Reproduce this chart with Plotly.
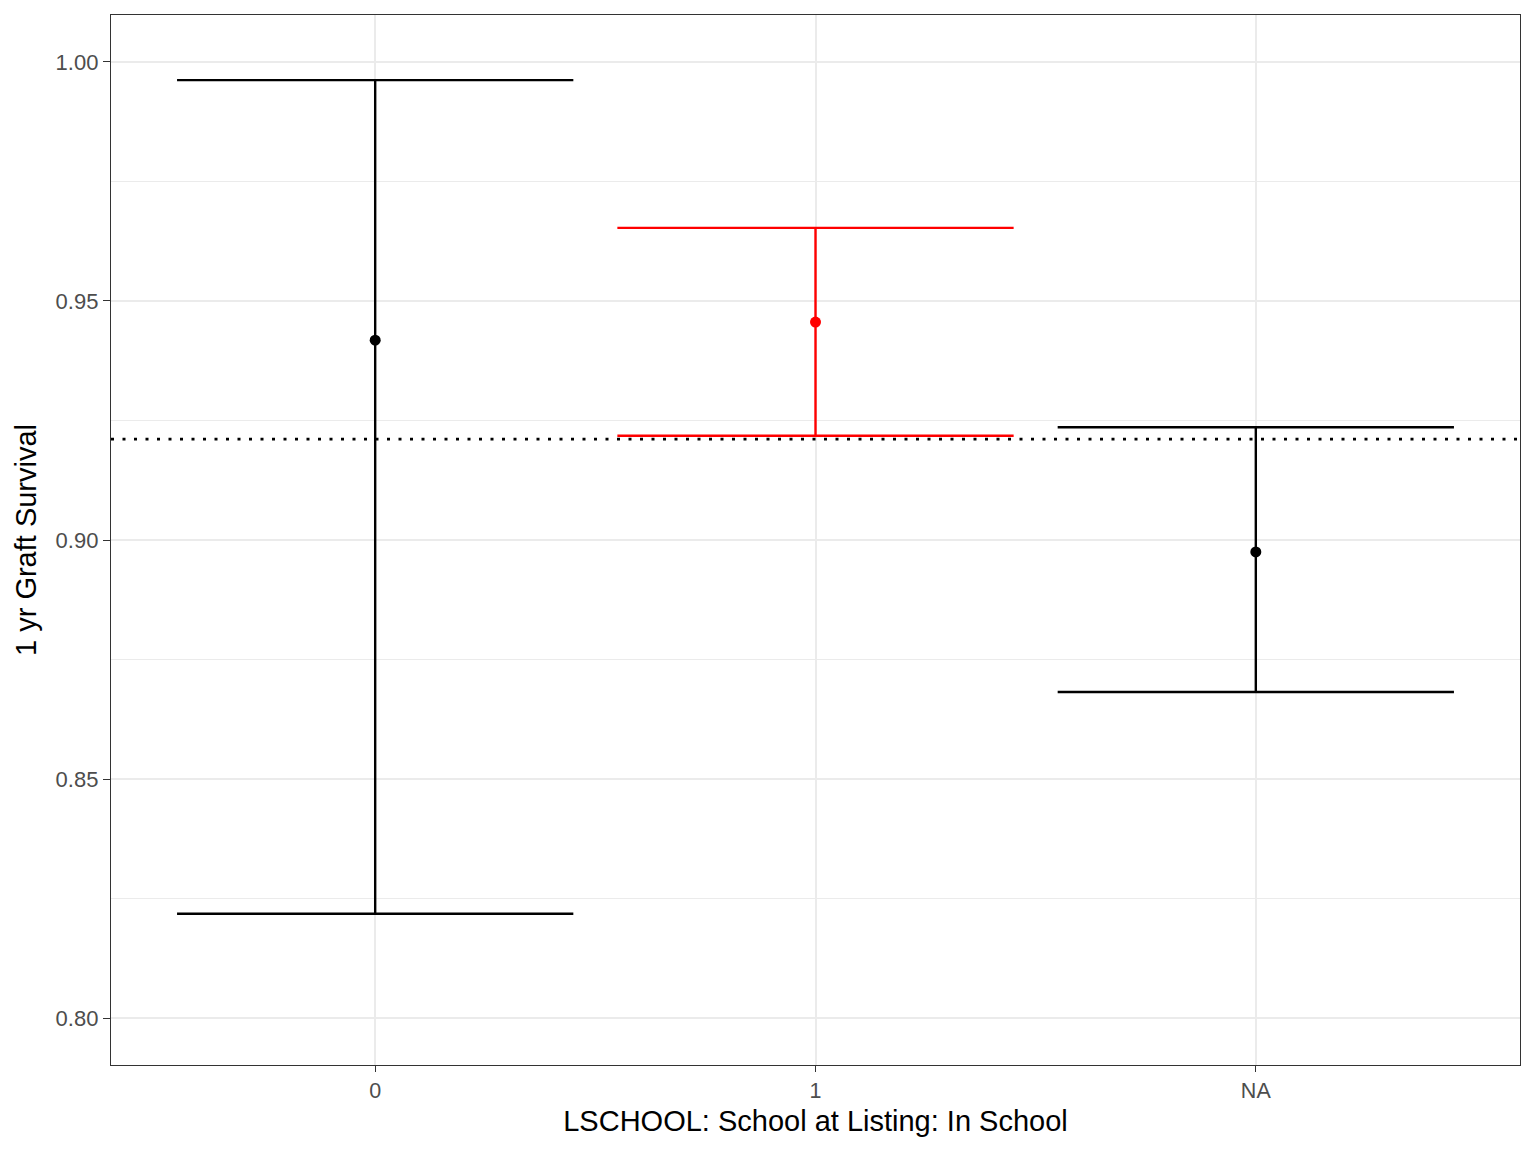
import plotly.graph_objects as go

categories = ["0", "1", "NA"]
estimate = [0.9418, 0.9456, 0.8975]
upper = [0.9962, 0.9653, 0.9236]
lower = [0.8218, 0.9218, 0.8682]
colors = ["black", "red", "black"]
reference_value = 0.9211
y_ticks = [0.80, 0.85, 0.90, 0.95, 1.00]
y_tick_labels = ["0.80", "0.85", "0.90", "0.95", "1.00"]
minor_vals = [0.775, 0.825, 0.875, 0.925, 0.975]

half_w = 0.45
fig = go.Figure()
for i, cat in enumerate(categories):
    c = colors[i]
    fig.add_trace(go.Scatter(x=[i, i], y=[lower[i], upper[i]], mode="lines",
                             line=dict(color=c, width=2.4), showlegend=False, hoverinfo="skip"))
    for v in (lower[i], upper[i]):
        fig.add_trace(go.Scatter(x=[i - half_w, i + half_w], y=[v, v], mode="lines",
                                 line=dict(color=c, width=2.4), showlegend=False, hoverinfo="skip"))
    fig.add_trace(go.Scatter(x=[i], y=[estimate[i]], mode="markers",
                             marker=dict(color=c, size=11), showlegend=False))

fig.add_shape(type="line", xref="paper", x0=0, x1=1, yref="y", y0=reference_value, y1=reference_value,
              line=dict(color="black", width=2.6, dash="3px,8.5px"), layer="above")

for v in minor_vals:
    fig.add_shape(type="line", xref="paper", x0=0, x1=1, yref="y", y0=v, y1=v,
                  line=dict(color="#EBEBEB", width=1), layer="below")

fig.update_layout(
    width=1520, height=1136,
    margin=dict(l=103, r=8, t=7, b=79),
    paper_bgcolor="white", plot_bgcolor="white",
    font=dict(family="Liberation Sans, Arial, sans-serif"),
)
fig.update_xaxes(
    range=[-0.6, 2.6], tickmode="array", tickvals=list(range(len(categories))), ticktext=categories,
    showgrid=True, gridcolor="#EBEBEB", gridwidth=1.6, zeroline=False,
    showline=True, linecolor="#333333", linewidth=1.4, mirror=True,
    ticks="outside", ticklen=6, tickwidth=1.4, tickcolor="#333333",
    tickfont=dict(size=21.5, color="#4D4D4D"),
    title=dict(text="LSCHOOL: School at Listing: In School", font=dict(size=29, color="black"), standoff=8),
)
fig.update_yaxes(
    range=[0.79017, 1.00983], tickmode="array", tickvals=y_ticks, ticktext=y_tick_labels,
    showgrid=True, gridcolor="#EBEBEB", gridwidth=1.6, zeroline=False,
    showline=True, linecolor="#333333", linewidth=1.4, mirror=True,
    ticks="outside", ticklen=7, tickwidth=1.4, tickcolor="#333333",
    tickfont=dict(size=22, color="#4D4D4D"),
    title=dict(text="1 yr Graft Survival", font=dict(size=29, color="black"), standoff=10),
)

fig.write_html("out.html")
